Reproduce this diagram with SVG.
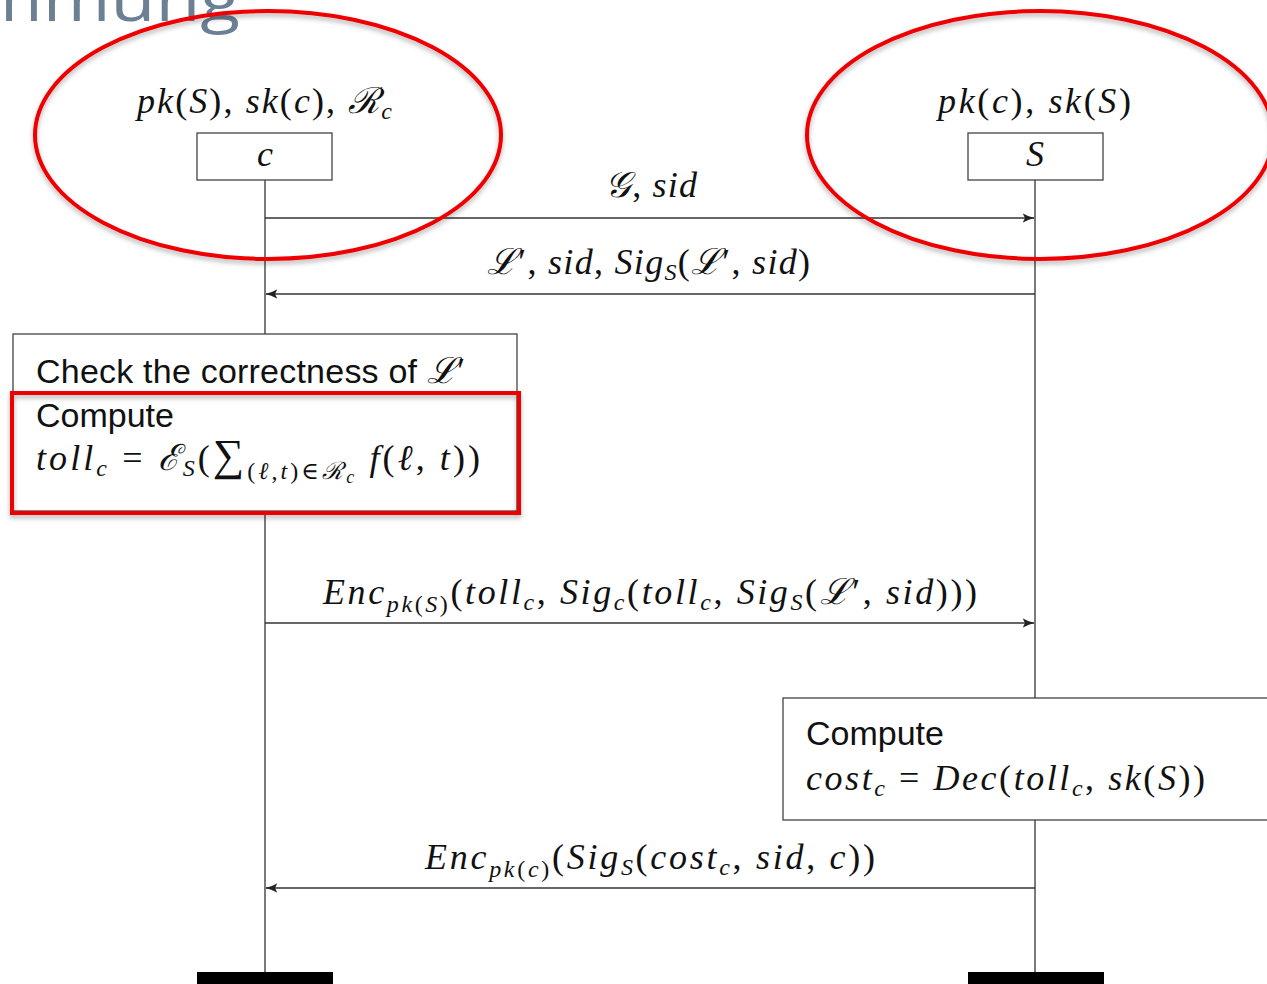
<svg xmlns="http://www.w3.org/2000/svg" width="1267" height="984" viewBox="0 0 1267 984">
<style>
.ln{stroke:#333;stroke-width:1.3;fill:none}
.box{fill:#fff;stroke:#444;stroke-width:1.3}
.m{font-family:"Liberation Serif","DejaVu Serif",serif;font-style:italic;font-size:36px;fill:#111}
.r{font-style:normal}
.s{font-size:24px}
.ss{font-size:18px}
.sans{font-family:"Liberation Sans","DejaVu Sans",sans-serif;font-size:34px;fill:#111}
.red{fill:none;stroke:#ee0000;stroke-width:4}
.bar{fill:#000}
</style>
<defs>
<marker id="ah" viewBox="0 0 10 10" refX="9.5" refY="5" markerWidth="12" markerHeight="12" markerUnits="userSpaceOnUse" orient="auto">
<path d="M0,1 Q5,4 10,5 Q5,6 0,9 L2,5 Z" fill="#222"/>
</marker>
<filter id="sh" x="-10%" y="-10%" width="120%" height="130%">
<feDropShadow dx="0" dy="3" stdDeviation="2.5" flood-color="#000" flood-opacity="0.3"/>
</filter>
</defs>
<rect width="1267" height="984" fill="#fff"/>
<text x="-25" y="21" font-family="'Open Sans','DejaVu Sans',sans-serif" font-size="60" fill="#6b7f95" textLength="265" lengthAdjust="spacingAndGlyphs">mmung</text>

<g id="connectors">
<line class="ln" x1="265" y1="180" x2="265" y2="334"/>
<line class="ln" x1="265" y1="511" x2="265" y2="972"/>
<line class="ln" x1="1035" y1="180" x2="1035" y2="698"/>
<line class="ln" x1="1035" y1="820" x2="1035" y2="972"/>
<line class="ln" x1="265" y1="218" x2="1034" y2="218" marker-end="url(#ah)"/>
<line class="ln" x1="1035" y1="294" x2="266" y2="294" marker-end="url(#ah)"/>
<line class="ln" x1="265" y1="623" x2="1034" y2="623" marker-end="url(#ah)"/>
<line class="ln" x1="1035" y1="888" x2="266" y2="888" marker-end="url(#ah)"/>
<text class="m" x="605" y="197" textLength="92" lengthAdjust="spacing">𝒢<tspan class="r">, </tspan>sid</text>
<text class="m" x="487" y="274" textLength="323" lengthAdjust="spacing">ℒ<tspan class="r">′, </tspan>sid<tspan class="r">, </tspan>Sig<tspan class="s" dy="6">S</tspan><tspan class="r" dy="-6">(</tspan>ℒ<tspan class="r">′, </tspan>sid<tspan class="r">)</tspan></text>
<text class="m" x="323" y="604" textLength="654" lengthAdjust="spacing">Enc<tspan class="s" dy="8">pk<tspan class="r">(</tspan>S<tspan class="r">)</tspan></tspan><tspan class="r" dy="-8">(</tspan>toll<tspan class="s" dy="6">c</tspan><tspan class="r" dy="-6">, </tspan>Sig<tspan class="s" dy="6">c</tspan><tspan class="r" dy="-6">(</tspan>toll<tspan class="s" dy="6">c</tspan><tspan class="r" dy="-6">, </tspan>Sig<tspan class="s" dy="6">S</tspan><tspan class="r" dy="-6">(</tspan>ℒ<tspan class="r">′, </tspan>sid<tspan class="r">)))</tspan></text>
<text class="m" x="425" y="869" textLength="450" lengthAdjust="spacing">Enc<tspan class="s" dy="8">pk<tspan class="r">(</tspan>c<tspan class="r">)</tspan></tspan><tspan class="r" dy="-8">(</tspan>Sig<tspan class="s" dy="6">S</tspan><tspan class="r" dy="-6">(</tspan>cost<tspan class="s" dy="6">c</tspan><tspan class="r" dy="-6">, </tspan>sid<tspan class="r">, </tspan>c<tspan class="r">))</tspan></text>
</g>

<g id="node-c">
<text class="m" x="137" y="113" textLength="255" lengthAdjust="spacing">pk<tspan class="r">(</tspan>S<tspan class="r">), </tspan>sk<tspan class="r">(</tspan>c<tspan class="r">), </tspan>ℛ<tspan class="s" dy="6">c</tspan></text>
<rect class="box" x="197" y="133" width="135" height="47"/>
<text class="m" x="265" y="166" text-anchor="middle">c</text>
<rect class="bar" x="197" y="972" width="136" height="12"/>
</g>

<g id="node-S">
<text class="m" x="938" y="113" textLength="193" lengthAdjust="spacing">pk<tspan class="r">(</tspan>c<tspan class="r">), </tspan>sk<tspan class="r">(</tspan>S<tspan class="r">)</tspan></text>
<rect class="box" x="968" y="133" width="135" height="47"/>
<text class="m" x="1035" y="166" text-anchor="middle">S</text>
<rect class="bar" x="968" y="972" width="136" height="12"/>
</g>

<g id="node-client-compute">
<rect class="box" x="13" y="334" width="504" height="177"/>
<text class="sans" x="36" y="383" textLength="429" lengthAdjust="spacing">Check the correctness of <tspan class="m" font-size="34">ℒ<tspan class="r">′</tspan></tspan></text>
<text class="sans" x="36" y="427">Compute</text>
<text class="m" x="36" y="470" textLength="444" lengthAdjust="spacing">toll<tspan class="s" dy="6">c</tspan><tspan class="r" dy="-6"> = </tspan>ℰ<tspan class="s" dy="6">S</tspan><tspan class="r" dy="-6">(</tspan><tspan class="r" font-size="44">∑</tspan><tspan class="s" dy="9"><tspan class="r">(</tspan>ℓ<tspan class="r">,</tspan>t<tspan class="r">)∈</tspan>ℛ<tspan class="ss" dy="4">c</tspan></tspan><tspan dy="-13"> f</tspan><tspan class="r">(</tspan>ℓ<tspan class="r">, </tspan>t<tspan class="r">))</tspan></text>
<rect class="red" x="12" y="393" width="507" height="120" filter="url(#sh)"/>
</g>

<g id="node-server-compute">
<rect class="box" x="783" y="698" width="500" height="122"/>
<text class="sans" x="806" y="745">Compute</text>
<text class="m" x="806" y="790" textLength="399" lengthAdjust="spacing">cost<tspan class="s" dy="6">c</tspan><tspan class="r" dy="-6"> = </tspan>Dec<tspan class="r">(</tspan>toll<tspan class="s" dy="6">c</tspan><tspan class="r" dy="-6">, </tspan>sk<tspan class="r">(</tspan>S<tspan class="r">))</tspan></text>
</g>

<g id="highlights">
<ellipse class="red" cx="268" cy="135" rx="233" ry="124" filter="url(#sh)"/>
<ellipse class="red" cx="1040" cy="135" rx="233" ry="124" filter="url(#sh)"/>
</g>
</svg>
